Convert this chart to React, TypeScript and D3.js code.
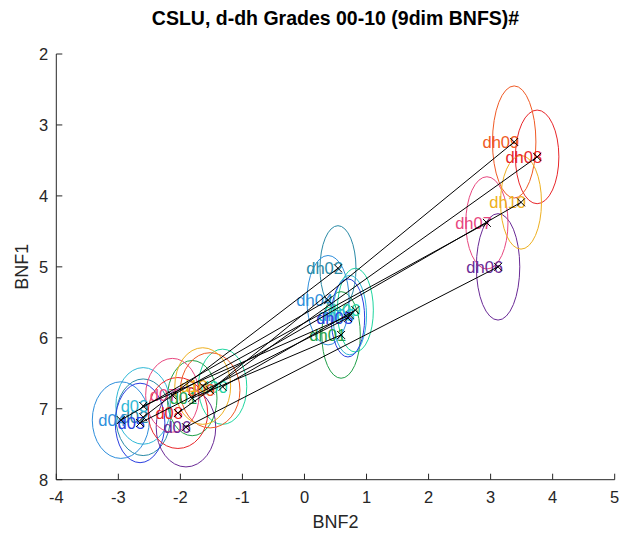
import React from "react";
import * as d3 from "d3";

const grades = ["00", "01", "02", "03", "04", "05", "06", "07", "08", "09", "10"];
const colors = ["#1fd6a0", "#21a049", "#2a8aa6", "#2fb8d6", "#2f8fdc", "#2a3fe0", "#6a2a96", "#e8477f", "#e8262a", "#f05a25", "#eeb020"];

const dX = [-1.32, -1.81, -2.6, -2.6, -2.96, -2.65, -1.91, -2.13, -2.04, -1.52, -1.64];
const dY = [6.69, 6.85, 7.12, 6.96, 7.16, 7.2, 7.26, 6.81, 7.06, 6.74, 6.68];
const dRx = [0.39, 0.4, 0.44, 0.44, 0.46, 0.4, 0.48, 0.43, 0.48, 0.48, 0.45];
const dRy = [0.53, 0.53, 0.54, 0.54, 0.54, 0.56, 0.56, 0.52, 0.5, 0.53, 0.54];

const dhX = [0.82, 0.59, 0.54, 0.73, 0.38, 0.7, 3.12, 2.94, 3.75, 3.38, 3.49];
const dhY = [5.61, 5.96, 5.02, 5.68, 5.47, 5.72, 5.0, 4.38, 3.45, 3.24, 4.09];
const dhRx = [0.29, 0.31, 0.29, 0.27, 0.34, 0.27, 0.35, 0.34, 0.35, 0.35, 0.33];
const dhRy = [0.59, 0.61, 0.6, 0.56, 0.63, 0.55, 0.75, 0.65, 0.66, 0.79, 0.66];

const xTicks = [-4, -3, -2, -1, 0, 1, 2, 3, 4, 5];
const yTicks = [2, 3, 4, 5, 6, 7, 8];

const W = 629;
const H = 533;
const left = 56.3;
const right = 614.7;
const top = 54;
const bottom = 479.7;
const FONT = "'Liberation Sans', Arial, Helvetica, sans-serif";
const AX = "#262626";

export default function App() {
  const x = d3.scaleLinear().domain([-4, 5]).range([left, right]);
  const y = d3.scaleLinear().domain([2, 8]).range([top, bottom]);

  const pts = grades.map((g, i) => ({
    g,
    c: colors[i],
    d: { x: dX[i], y: dY[i], rx: dRx[i], ry: dRy[i], lab: "d" + g },
    dh: { x: dhX[i], y: dhY[i], rx: dhRx[i], ry: dhRy[i], lab: "dh" + g },
  }));

  const marker = (px: number, py: number, k: string) => (
    <path
      key={k}
      d={`M${px - 4},${py - 4}L${px + 4},${py + 4}M${px - 4},${py + 4}L${px + 4},${py - 4}`}
      stroke="#000"
      strokeWidth={1}
      fill="none"
    />
  );

  return (
    <svg
      width={W}
      height={H}
      style={{ position: "absolute", left: 0, top: 0, background: "#fff" }}
      fontFamily={FONT}
    >
      <rect x={0} y={0} width={W} height={H} fill="#fff" />
      <text x={335.5} y={24.5} textAnchor="middle" fontSize={19.5} fontWeight="bold" fill="#000">
        CSLU, d-dh Grades 00-10 (9dim BNFS)#
      </text>
      {/* ellipses */}
      {pts.map((p, i) => (
        <g key={"e" + i} fill="none" stroke={p.c} strokeWidth={1}>
          <ellipse
            cx={x(p.d.x)}
            cy={y(p.d.y)}
            rx={x(p.d.rx) - x(0)}
            ry={y(p.d.ry) - y(0)}
          />
          <ellipse
            cx={x(p.dh.x)}
            cy={y(p.dh.y)}
            rx={x(p.dh.rx) - x(0)}
            ry={y(p.dh.ry) - y(0)}
          />
        </g>
      ))}
      {/* labels */}
      {pts.map((p, i) => (
        <g key={"t" + i} fill={p.c} fontSize={16.5}>
          <text x={x(p.d.x) + 5} y={y(p.d.y)} textAnchor="end" dominantBaseline="central">
            {p.d.lab}
          </text>
          <text x={x(p.dh.x) + 5} y={y(p.dh.y)} textAnchor="end" dominantBaseline="central">
            {p.dh.lab}
          </text>
        </g>
      ))}
      {/* lines and markers */}
      {pts.map((p, i) => (
        <g key={"l" + i}>
          <line
            x1={x(p.d.x)}
            y1={y(p.d.y)}
            x2={x(p.dh.x)}
            y2={y(p.dh.y)}
            stroke="#000"
            strokeWidth={1}
          />
          {marker(x(p.d.x), y(p.d.y), "m1")}
          {marker(x(p.dh.x), y(p.dh.y), "m2")}
        </g>
      ))}
      {/* axes */}
      <g stroke={AX} strokeWidth={1} fill="none">
        <line x1={left} y1={bottom} x2={right} y2={bottom} />
        <line x1={left} y1={top} x2={left} y2={bottom} />
        {xTicks.map((t) => (
          <line key={"xt" + t} x1={x(t)} y1={bottom} x2={x(t)} y2={bottom - 6} />
        ))}
        {yTicks.map((t) => (
          <line key={"yt" + t} x1={left} y1={y(t)} x2={left + 6} y2={y(t)} />
        ))}
      </g>
      <g fill={AX} fontSize={16.5}>
        {xTicks.map((t) => (
          <text key={"xl" + t} x={x(t)} y={503} textAnchor="middle">
            {t}
          </text>
        ))}
        {yTicks.map((t) => (
          <text key={"yl" + t} x={left - 8} y={y(t)} textAnchor="end" dominantBaseline="central">
            {t}
          </text>
        ))}
        <text x={(left + right) / 2} y={528} textAnchor="middle" fontSize={18}>
          BNF2
        </text>
        <text
          transform={`translate(28,${(top + bottom) / 2}) rotate(-90)`}
          textAnchor="middle"
          fontSize={18}
        >
          BNF1
        </text>
      </g>
    </svg>
  );
}
